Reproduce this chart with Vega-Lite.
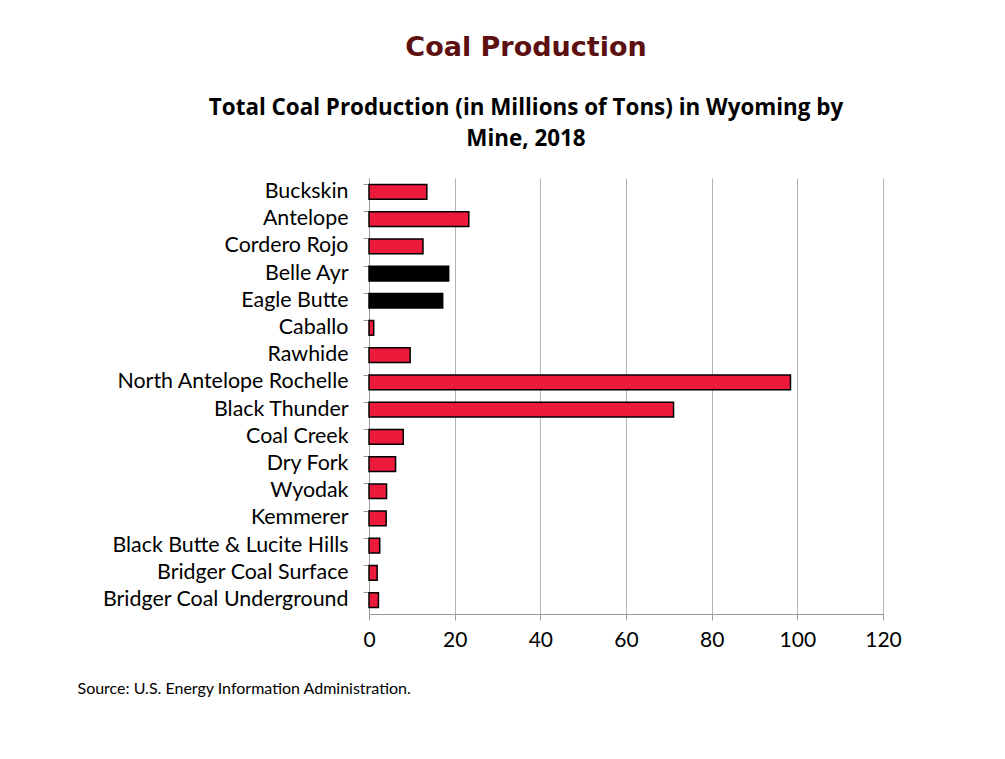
{
  "$schema": "https://vega.github.io/schema/vega-lite/v6.json",
  "autosize": {"type": "none"},
  "width": 514,
  "height": 436,
  "padding": {"left": 369, "top": 178, "right": 122, "bottom": 145},
  "background": "white",
  "title": {
    "text": "Coal Production",
    "subtitle": ["Total Coal Production (in Millions of Tons) in Wyoming by", "Mine, 2018"],
    "anchor": "middle",
    "frame": "group",
    "dx": -100,
    "font": "DejaVu Sans",
    "fontSize": 27,
    "fontWeight": "bold",
    "color": "#5c1010",
    "subtitleFont": "Open Sans",
    "subtitleFontSize": 22.4,
    "subtitleFontWeight": "bold",
    "subtitleColor": "black",
    "subtitleLineHeight": 31,
    "subtitlePadding": 35,
    "offset": 27
  },
  "data": {
    "values": [
      {"mine": "Buckskin", "tons": 13.5, "group": "Other"},
      {"mine": "Antelope", "tons": 23.3, "group": "Other"},
      {"mine": "Cordero Rojo", "tons": 12.6, "group": "Other"},
      {"mine": "Belle Ayr", "tons": 18.6, "group": "Highlighted"},
      {"mine": "Eagle Butte", "tons": 17.2, "group": "Highlighted"},
      {"mine": "Caballo", "tons": 1.1, "group": "Other"},
      {"mine": "Rawhide", "tons": 9.6, "group": "Other"},
      {"mine": "North Antelope Rochelle", "tons": 98.4, "group": "Other"},
      {"mine": "Black Thunder", "tons": 71.1, "group": "Other"},
      {"mine": "Coal Creek", "tons": 8.0, "group": "Other"},
      {"mine": "Dry Fork", "tons": 6.2, "group": "Other"},
      {"mine": "Wyodak", "tons": 4.1, "group": "Other"},
      {"mine": "Kemmerer", "tons": 4.0, "group": "Other"},
      {"mine": "Black Butte & Lucite Hills", "tons": 2.5, "group": "Other"},
      {"mine": "Bridger Coal Surface", "tons": 1.9, "group": "Other"},
      {"mine": "Bridger Coal Underground", "tons": 2.2, "group": "Other"}
    ]
  },
  "mark": {"type": "bar", "stroke": "black", "strokeWidth": 1.5},
  "encoding": {
    "y": {
      "field": "mine",
      "type": "nominal",
      "sort": null,
      "scale": {"paddingInner": 0.46, "paddingOuter": 0.24},
      "axis": {
        "title": null,
        "bandPosition": 0,
        "ticks": true,
        "tickSize": 6,
        "tickColor": "#999999",
        "domainColor": "#999999",
        "labelFont": "Lato",
        "labelFontSize": 21.4,
        "labelColor": "black",
        "labelPadding": 15,
        "labelLimit": 400,
        "grid": false
      }
    },
    "x": {
      "field": "tons",
      "type": "quantitative",
      "scale": {"domain": [0, 120], "nice": false},
      "axis": {
        "values": [0, 20, 40, 60, 80, 100, 120],
        "labelFlush": false,
        "title": "Source: U.S. Energy Information Administration.",
        "titleX": -292,
        "titleY": 74,
        "titleAlign": "left",
        "titleBaseline": "middle",
        "titleFont": "Lato",
        "titleFontSize": 16,
        "titleFontWeight": "normal",
        "titleColor": "black",
        "grid": true,
        "gridColor": "#b3b3b3",
        "gridWidth": 1,
        "tickSize": 6,
        "tickColor": "#999999",
        "domainColor": "#999999",
        "labelFont": "Lato",
        "labelFontSize": 21,
        "labelColor": "black",
        "labelPadding": 9
      }
    },
    "color": {
      "field": "group",
      "type": "nominal",
      "scale": {"domain": ["Other", "Highlighted"], "range": ["#ED1A3C", "#000000"]},
      "legend": null
    }
  },
  "config": {"view": {"stroke": null}}
}
